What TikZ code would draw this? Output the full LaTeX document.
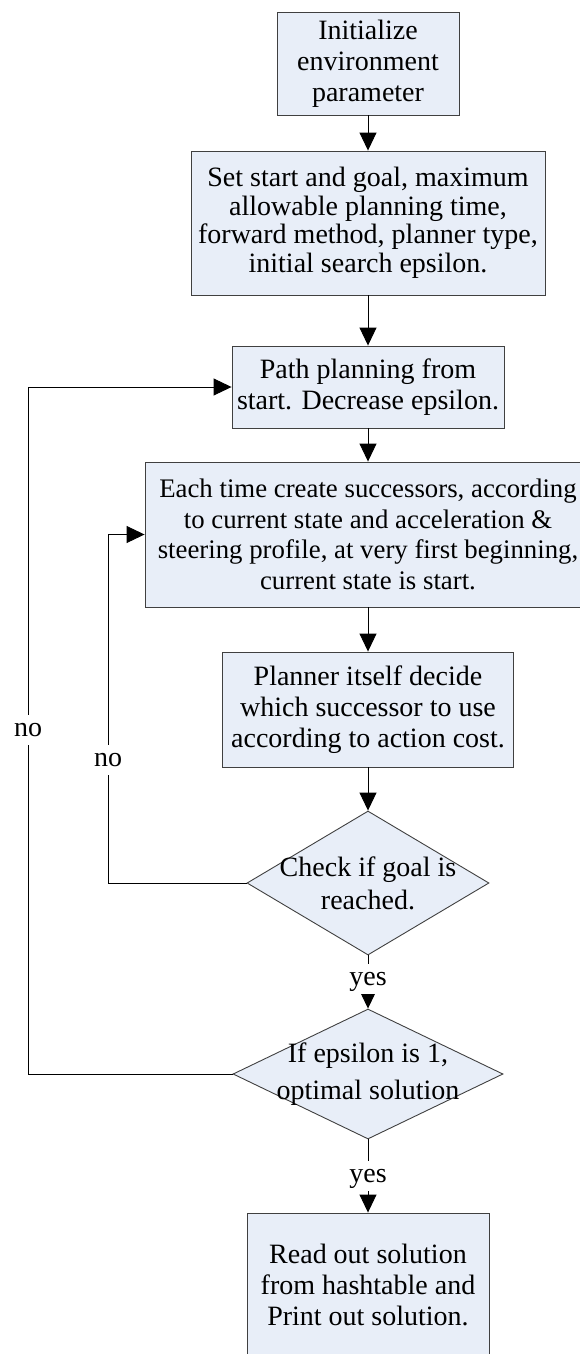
\documentclass[tikz,border=0pt]{standalone}
\usepackage{fontspec}
\setmainfont{Liberation Serif}
\usetikzlibrary{shapes.geometric,arrows.meta}
\definecolor{boxfill}{RGB}{232,238,248}
\definecolor{boxline}{RGB}{64,64,64}
\begin{document}
\begin{tikzpicture}[x=1pt,y=-1pt,
  box/.style={draw=boxline, fill=boxfill, line width=0.9pt, rectangle,
    inner sep=0pt, align=center, font=\fontsize{28}{31}\selectfont},
  decision/.style={draw=boxline, fill=boxfill, line width=0.9pt, diamond,
    inner sep=0pt},
  dtext/.style={align=center, inner sep=0pt, font=\fontsize{28}{33}\selectfont},
  flow/.style={draw=black, line width=0.9pt, -{Triangle[length=18pt,width=17pt]}},
  lab/.style={fill=white, inner sep=3pt, text height=18pt, text depth=6pt,
    font=\fontsize{28}{31}\selectfont}
]
\useasboundingbox (0,0) rectangle (579,1354);

% process steps
\node[box, minimum width=182pt, minimum height=103pt] (init) at (368,63.5)
  {Initialize\\environment\\parameter};
\node[box, minimum width=354pt, minimum height=144pt,
      font=\fontsize{28}{28.5}\selectfont] (setup) at (368,223)
  {Set start and goal, maximum\\allowable planning time,\\forward method, planner type,\\initial search epsilon.};
\node[box, minimum width=272pt, minimum height=82pt] (plan) at (368,387)
  {Path planning from\\start. Decrease epsilon.};
\node[box, minimum width=446pt, minimum height=145pt,
      font=\fontsize{26.8}{30.5}\selectfont] (succ) at (368,534.5)
  {Each time create successors, according\\to current state and acceleration \&\\steering profile, at very first beginning,\\current state is start.};
\node[box, minimum width=291pt, minimum height=115pt] (choose) at (368,709.5)
  {Planner itself decide\\which successor to use\\according to action cost.};

% decisions
\node[decision, minimum width=242pt, minimum height=144pt] (goal) at (368,883) {};
\node[dtext] (goaltxt) at (goal) {Check if goal is\\reached.};
\node[decision, minimum width=270pt, minimum height=130pt] (eps) at (368,1074) {};
\node[dtext, font=\fontsize{28}{37}\selectfont] (epstxt) at (eps) {If epsilon is 1,\\optimal solution};

% result
\node[box, minimum width=242pt, minimum height=144pt] (out) at (368,1285)
  {Read out solution\\from hashtable and\\Print out solution.};

% main flow
\draw[flow] (init) -- (setup);
\draw[flow] (setup) -- (plan);
\draw[flow] (plan) -- (succ);
\draw[flow] (succ) -- (choose);
\draw[flow] (choose) -- (goal);
\draw[flow] (goal) -- node[lab, pos=0.45] (yes1) {yes} (eps);
\draw[flow] (eps) -- node[lab] (yes2) {yes} (out);

% loop: goal not reached
\coordinate (nA) at (108,883);
\coordinate (nB) at (108,534.5);
\draw[flow] (goal.west) -- (nA) -- (nB) -- (succ.west);
\node[lab] (no1) at (108,760) {no};

% loop: epsilon not yet 1
\coordinate (nC) at (28,1074);
\coordinate (nD) at (28,387);
\draw[flow] (eps.west) -- (nC) -- (nD) -- (plan.west);
\node[lab] (no2) at (28,730) {no};
\end{tikzpicture}
\end{document}
